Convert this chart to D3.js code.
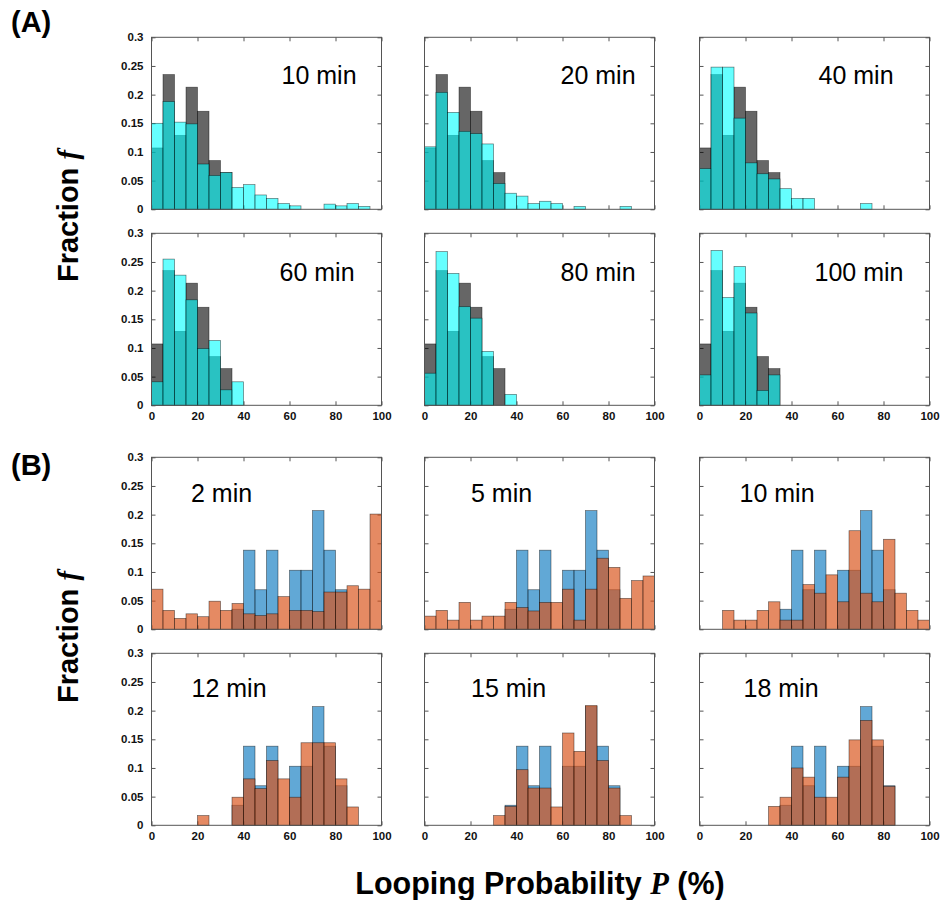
<!DOCTYPE html>
<html>
<head>
<meta charset="utf-8">
<script src="https://cdn.jsdelivr.net/npm/d3@7"></script>
<style>
  body { margin: 0; background: #fff; }
  svg { display: block; }
</style>
</head>
<body>
<script>
// Histogram bin edges (looping probability, %)
const binEdges = [0,5,10,15,20,25,30,35,40,45,50,55,60,65,70,75,80,85,90,95,100];
const xTicks = [0,20,40,60,80,100];
const yTicks = [0,0.05,0.1,0.15,0.2,0.25,0.3];
const yTickLabels = ["0","0.05","0.1","0.15","0.2","0.25","0.3"];

// Part A: reference distribution (dark grey) and time points (cyan)
const timesA = ["10 min","20 min","40 min","60 min","80 min","100 min"];
const greyA = [0.107,0.235,0.129,0.213,0.171,0.085,0.064,0,0,0,0,0,0,0,0,0,0,0,0,0];
const cyan10 = [0.150,0.188,0.152,0.149,0.079,0.059,0.064,0.038,0.043,0.025,0.019,0.010,0.006,0,0,0.009,0.006,0.010,0.005,0];
const cyan20 = [0.109,0.204,0.169,0.136,0.132,0.114,0.045,0.028,0.023,0.010,0.014,0.010,0,0.005,0,0,0,0.005,0,0];
const cyan40 = [0.071,0.248,0.248,0.159,0.081,0.062,0.053,0.036,0.019,0.019,0,0,0,0,0.010,0,0,0,0,0];
const cyan60 = [0.041,0.255,0.227,0.184,0.099,0.113,0.027,0.041,0,0,0,0,0,0,0,0,0,0,0,0];
const cyan80 = [0.056,0.268,0.230,0.172,0.152,0.094,0,0.019,0,0,0,0,0,0,0,0,0,0,0,0];
const cyan100 = [0.053,0.270,0.188,0.242,0.161,0.026,0.053,0,0,0,0,0,0,0,0,0,0,0,0,0];

// Part B: reference distribution (blue) and time points (orange)
const timesB = ["2 min","5 min","10 min","12 min","15 min","18 min"];
const blueB = [0,0,0,0,0,0,0,0.035,0.138,0.069,0.138,0,0.103,0.103,0.207,0.138,0.069,0,0,0];
const orange2 = [0.070,0.033,0.019,0.027,0.022,0.049,0.033,0.045,0.027,0.024,0.027,0.057,0.033,0.033,0.031,0.065,0.065,0.076,0.070,0.201];
const orange5 = [0.023,0.033,0.016,0.047,0.016,0.023,0.023,0.047,0.038,0.032,0.047,0.047,0.070,0.016,0.070,0.124,0.108,0.054,0.085,0.093];
const orange10 = [0,0,0.033,0.016,0.016,0.033,0.048,0.016,0.016,0.078,0.063,0.095,0.048,0.172,0.063,0.048,0.157,0.063,0.033,0.016];
const orange12 = [0,0,0,0,0.017,0,0,0.049,0.081,0.064,0.113,0.081,0.049,0.144,0.144,0.144,0.081,0.032,0,0];
const orange15 = [0,0,0,0,0,0,0.017,0.033,0.097,0.065,0.065,0.032,0.161,0.129,0.209,0.113,0.065,0.017,0,0];
const orange18 = [0,0,0,0,0,0,0.033,0.049,0.100,0.084,0.049,0.049,0.084,0.149,0.183,0.149,0.068,0,0,0];

// ---- layout ----
const W = 943, H = 900;
const pw = 230, ph = 172;
const colX = [151.5, 424.5, 699.5];
const rowY = [37.3, 233.3, 457.3, 653.3];

const svg = d3.select("body").append("svg")
  .attr("width", W).attr("height", H)
  .style("font-family", "Arial, 'Liberation Sans', sans-serif");

const x = d3.scaleLinear().domain([0, 100]).range([0, pw]);
const y = d3.scaleLinear().domain([0, 0.3]).range([ph, 0]);

const styleA = [
  { fill: "#000000", op: 0.6 },
  { fill: "#00ffff", op: 0.6 }
];
const styleB = [
  { fill: "#0072bd", op: 0.62 },
  { fill: "#d95319", op: 0.68 }
];

// title offsets inside each panel (px from panel's left edge / top edge)
const titlePosA = [[130,47],[136,47],[119,47],[128,47.4],[136,47.4],[115,47.4]];
const titlePosB = [[39.5,45],[46.5,45],[40,45],[40,44],[46.5,44],[44,44]];

const panels = [];
const seriesA = [cyan10, cyan20, cyan40, cyan60, cyan80, cyan100];
timesA.forEach((t, i) => panels.push({
  col: i % 3, row: Math.floor(i / 3), title: t, pos: titlePosA[i],
  series: [greyA, seriesA[i]], styles: styleA, bottom: i >= 3
}));
const seriesB = [orange2, orange5, orange10, orange12, orange15, orange18];
timesB.forEach((t, i) => panels.push({
  col: i % 3, row: 2 + Math.floor(i / 3), title: t, pos: titlePosB[i],
  series: [blueB, seriesB[i]], styles: styleB, bottom: i >= 3
}));

panels.forEach(p => {
  const g = svg.append("g").attr("transform", `translate(${colX[p.col]},${rowY[p.row]})`);

  // axes (ticks point inward, Matlab-style box)
  const left = g.append("g").call(
    d3.axisLeft(y).tickValues(yTicks).tickSizeInner(-4).tickSizeOuter(0).tickPadding(8)
      .tickFormat((d, i) => p.col === 0 ? yTickLabels[i] : ""));
  const right = g.append("g").attr("transform", `translate(${pw},0)`).call(
    d3.axisRight(y).tickValues(yTicks).tickSizeInner(-4).tickSizeOuter(0).tickFormat(""));
  const top = g.append("g").call(
    d3.axisTop(x).tickValues(xTicks).tickSizeInner(-4).tickSizeOuter(0).tickFormat(""));
  const bottom = g.append("g").attr("transform", `translate(0,${ph})`).call(
    d3.axisBottom(x).tickValues(xTicks).tickSizeInner(-4).tickSizeOuter(0).tickPadding(7)
      .tickFormat(d => p.bottom ? d : ""));
  [left, right, top, bottom].forEach(a => {
    a.select(".domain").remove();
    a.selectAll("line").attr("stroke", "#555").attr("stroke-width", 1);
    a.selectAll("text").attr("fill", "#111").style("font-size", "11.5px").style("font-weight", "bold");
  });

  // histogram bars
  p.series.forEach((vals, si) => {
    const st = p.styles[si];
    const bins = vals.map((v, i) => ({ x0: binEdges[i], x1: binEdges[i + 1], v })).filter(d => d.v > 0);
    g.append("g").selectAll("rect").data(bins).join("rect")
      .attr("x", d => x(d.x0))
      .attr("width", d => x(d.x1) - x(d.x0))
      .attr("y", d => y(d.v))
      .attr("height", d => y(0) - y(d.v))
      .attr("fill", st.fill)
      .attr("fill-opacity", st.op)
      .attr("stroke", "#000")
      .attr("stroke-opacity", 0.55)
      .attr("stroke-width", 0.7);
  });

  // frame
  g.append("rect").attr("width", pw).attr("height", ph)
    .attr("fill", "none").attr("stroke", "#555").attr("stroke-width", 1);

  // time label
  g.append("text").attr("x", p.pos[0]).attr("y", p.pos[1])
    .style("font-size", "25px").attr("fill", "#000").text(p.title);
});

// panel letters
svg.append("text").attr("x", 11).attr("y", 32).style("font-size", "29px").style("font-weight", "bold").text("(A)");
svg.append("text").attr("x", 11).attr("y", 475).style("font-size", "29px").style("font-weight", "bold").text("(B)");

// y axis titles
function fractionLabel(cy) {
  const t = svg.append("text")
    .attr("transform", `translate(78,${cy}) rotate(-90)`)
    .attr("text-anchor", "middle")
    .style("font-size", "29px").style("font-weight", "bold");
  t.append("tspan").text("Fraction ");
  t.append("tspan").style("font-family", "'Liberation Serif', 'DejaVu Serif', serif")
    .style("font-style", "italic").text("f");
}
fractionLabel(216);
fractionLabel(637);

// x axis title
const xt = svg.append("text").attr("x", 540).attr("y", 894)
  .attr("text-anchor", "middle").style("font-size", "30.5px").style("font-weight", "bold");
xt.append("tspan").text("Looping Probability ");
xt.append("tspan").style("font-family", "'Liberation Serif', 'DejaVu Serif', serif")
  .style("font-style", "italic").text("P");
xt.append("tspan").text(" (%)");
</script>
</body>
</html>
